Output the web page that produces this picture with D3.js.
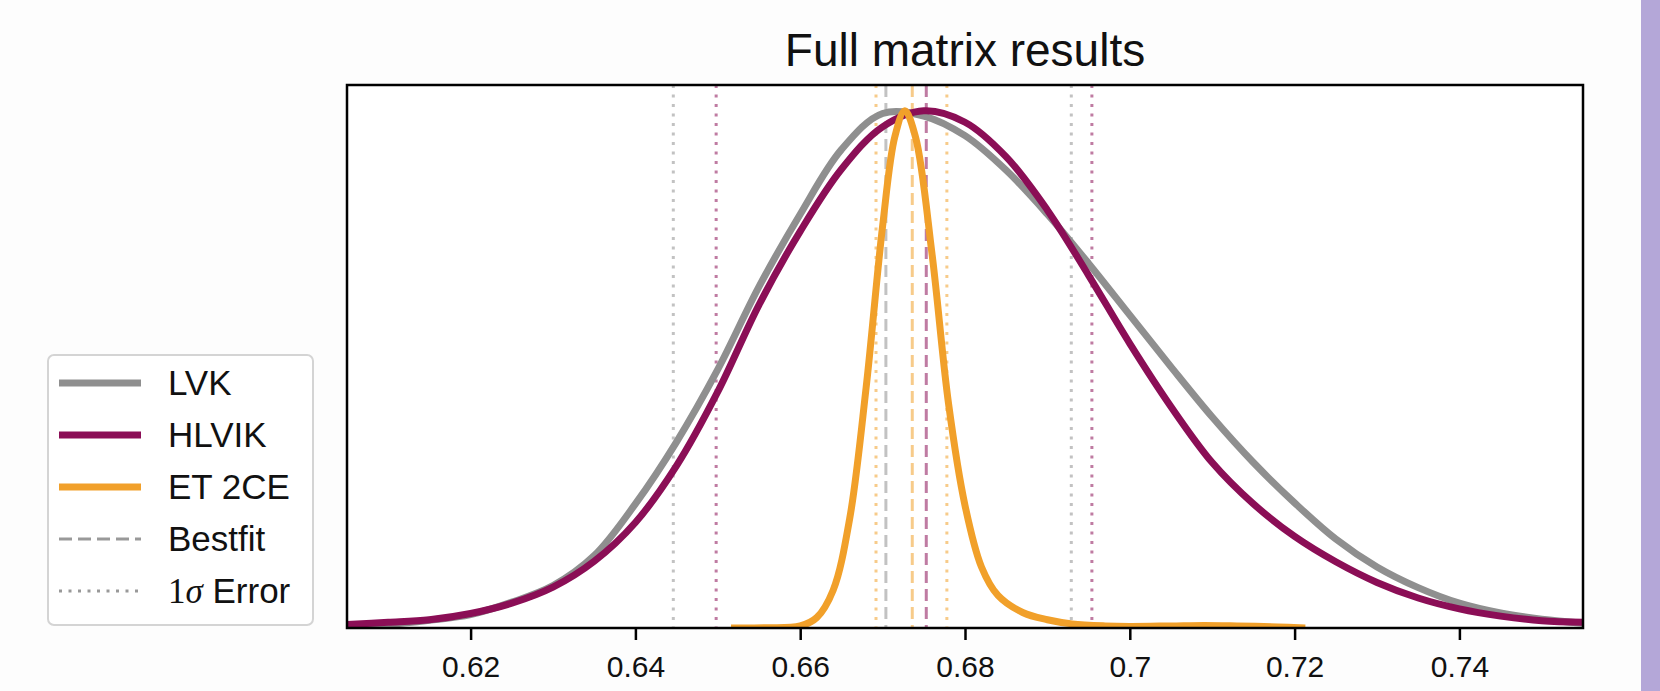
<!DOCTYPE html>
<html>
<head>
<meta charset="utf-8">
<script src="https://cdn.jsdelivr.net/npm/d3@7"></script>
<style>
  body { margin: 0; background: #fdfdfd; }
  svg { display: block; font-family: "Liberation Sans", Arial, sans-serif; }
</style>
</head>
<body>
<svg id="canvas" width="1660" height="691"></svg>
<script>
// x grid shared by the two wide curves
const gridX = [0.605, 0.61, 0.615, 0.62, 0.625, 0.63, 0.635, 0.64, 0.645, 0.65,
  0.655, 0.66, 0.665, 0.67, 0.675, 0.68, 0.685, 0.69, 0.695, 0.7,
  0.705, 0.71, 0.715, 0.72, 0.725, 0.73, 0.735, 0.74, 0.745, 0.75, 0.755];
const lvkValues = [0.004, 0.007, 0.015, 0.026, 0.05, 0.082, 0.14, 0.24, 0.36, 0.5,
  0.66, 0.8, 0.925, 0.995, 0.99, 0.952, 0.885, 0.8, 0.705, 0.605,
  0.505, 0.408, 0.32, 0.242, 0.172, 0.118, 0.078, 0.048, 0.029, 0.017, 0.0093];
const hlvikValues = [0.007, 0.011, 0.016, 0.028, 0.048, 0.079, 0.129, 0.204, 0.314, 0.457,
  0.625, 0.767, 0.887, 0.969, 1.0, 0.978, 0.911, 0.808, 0.682, 0.55,
  0.428, 0.32, 0.24, 0.177, 0.128, 0.088, 0.058, 0.037, 0.023, 0.014, 0.011];
const etX = [0.6516, 0.656, 0.66, 0.662, 0.664, 0.666, 0.668, 0.67, 0.6715, 0.6727,
  0.674, 0.676, 0.678, 0.68, 0.682, 0.684, 0.687, 0.69, 0.693, 0.697,
  0.7, 0.705, 0.709, 0.713, 0.718, 0.7213];
const etValues = [0.0, 0.0005, 0.004, 0.02, 0.073, 0.211, 0.465, 0.777, 0.951, 1.0,
  0.949, 0.723, 0.434, 0.237, 0.118, 0.063, 0.03, 0.016, 0.008, 0.004,
  0.003, 0.004, 0.005, 0.004, 0.002, 0.0];

const seriesNames = ["LVK", "HLVIK", "ET 2CE"];
const seriesColors = ["#8f8f8f", "#8b0e56", "#f1a02a"];
const bestfit = [0.6704, 0.6753, 0.6736];
const sigmaLow = [0.6446, 0.6498, 0.6692];
const sigmaHigh = [0.6929, 0.6954, 0.6778];

const tickValues = [0.62, 0.64, 0.66, 0.68, 0.7, 0.72, 0.74];
const tickLabels = ["0.62", "0.64", "0.66", "0.68", "0.7", "0.72", "0.74"];
const legendLabels = ["LVK", "HLVIK", "ET 2CE", "Bestfit", "Error"];

const plotLeft = 347, plotRight = 1583, plotTop = 85, plotBottom = 628;
const svg = d3.select("#canvas");

const x = d3.scaleLinear().domain([0.605, 0.755]).range([plotLeft, plotRight]);
const y = d3.scaleLinear().domain([0, 1.05]).range([plotBottom, plotTop]);

// purple strip on the right edge
svg.append("rect").attr("x", 1641).attr("y", 0).attr("width", 19).attr("height", 691)
  .attr("fill", "#b4a7d8");

svg.append("rect").attr("x", plotLeft).attr("y", plotTop)
  .attr("width", plotRight - plotLeft).attr("height", plotBottom - plotTop)
  .attr("fill", "#ffffff");

svg.append("clipPath").attr("id", "plot-clip")
  .append("rect").attr("x", plotLeft).attr("y", plotTop)
  .attr("width", plotRight - plotLeft).attr("height", plotBottom - plotTop);

const plot = svg.append("g").attr("clip-path", "url(#plot-clip)");

// vertical lines: 1 sigma (dotted) and best fit (dashed)
function vline(value, color, dash) {
  plot.append("line")
    .attr("x1", x(value)).attr("x2", x(value))
    .attr("y1", plotTop).attr("y2", plotBottom)
    .attr("stroke", color)
    .attr("stroke-width", 3)
    .attr("stroke-opacity", 0.55)
    .attr("stroke-dasharray", dash);
}
for (let i = 0; i < seriesNames.length; i++) {
  vline(sigmaLow[i], seriesColors[i], "3,6.5");
  vline(sigmaHigh[i], seriesColors[i], "3,6.5");
  vline(bestfit[i], seriesColors[i], "12,6");
}

const line = d3.line()
  .x((d) => x(d[0]))
  .y((d) => y(d[1]))
  .curve(d3.curveCatmullRom.alpha(0.5));

const curves = [
  d3.zip(gridX, lvkValues),
  d3.zip(gridX, hlvikValues),
  d3.zip(etX, etValues),
];
curves.forEach((pts, i) => {
  plot.append("path")
    .attr("d", line(pts))
    .attr("fill", "none")
    .attr("stroke", seriesColors[i])
    .attr("stroke-width", 7)
    .attr("stroke-linejoin", "round")
    .attr("stroke-linecap", "butt");
});

// axis + frame
const axis = svg.append("g")
  .attr("transform", "translate(0," + plotBottom + ")")
  .call(d3.axisBottom(x).tickValues(tickValues)
    .tickFormat((d, i) => tickLabels[i])
    .tickSize(12).tickPadding(16).tickSizeOuter(0));
axis.select(".domain").remove();
axis.selectAll(".tick line").attr("stroke", "#000").attr("stroke-width", 2.5);
axis.selectAll(".tick text")
  .attr("fill", "#111")
  .style("font-size", "30px")
  .style("font-family", "'Liberation Sans', Arial, sans-serif");

svg.append("rect").attr("x", plotLeft).attr("y", plotTop)
  .attr("width", plotRight - plotLeft).attr("height", plotBottom - plotTop)
  .attr("fill", "none").attr("stroke", "#000").attr("stroke-width", 2.5);

// title
svg.append("text")
  .attr("x", (plotLeft + plotRight) / 2).attr("y", 66)
  .attr("text-anchor", "middle")
  .attr("fill", "#111")
  .style("font-size", "46px")
  .text("Full matrix results");

// legend
const legend = svg.append("g");
legend.append("rect")
  .attr("x", 48).attr("y", 355).attr("width", 265).attr("height", 270)
  .attr("rx", 6).attr("fill", "#ffffff")
  .attr("stroke", "#d4d4d4").attr("stroke-width", 2);

const rowY = (i) => 383 + i * 52;
const legendStyles = [
  { color: seriesColors[0], width: 7, dash: null },
  { color: seriesColors[1], width: 7, dash: null },
  { color: seriesColors[2], width: 7, dash: null },
  { color: "#999999", width: 3, dash: "13,6" },
  { color: "#999999", width: 3, dash: "3,6.5" },
];
legendStyles.forEach((s, i) => {
  legend.append("line")
    .attr("x1", 59).attr("x2", 141)
    .attr("y1", rowY(i)).attr("y2", rowY(i))
    .attr("stroke", s.color).attr("stroke-width", s.width)
    .attr("stroke-dasharray", s.dash);
});
legendLabels.forEach((label, i) => {
  const t = legend.append("text")
    .attr("x", 168).attr("y", rowY(i) + 12)
    .attr("fill", "#111")
    .style("font-size", "35px");
  if (i === 4) {
    t.append("tspan").style("font-family", "'Liberation Serif', serif").text("1");
    t.append("tspan").style("font-family", "'Liberation Serif', serif")
      .style("font-style", "italic").text("σ");
    t.append("tspan").text(" " + label);
  } else {
    t.text(label);
  }
});
</script>
</body>
</html>
